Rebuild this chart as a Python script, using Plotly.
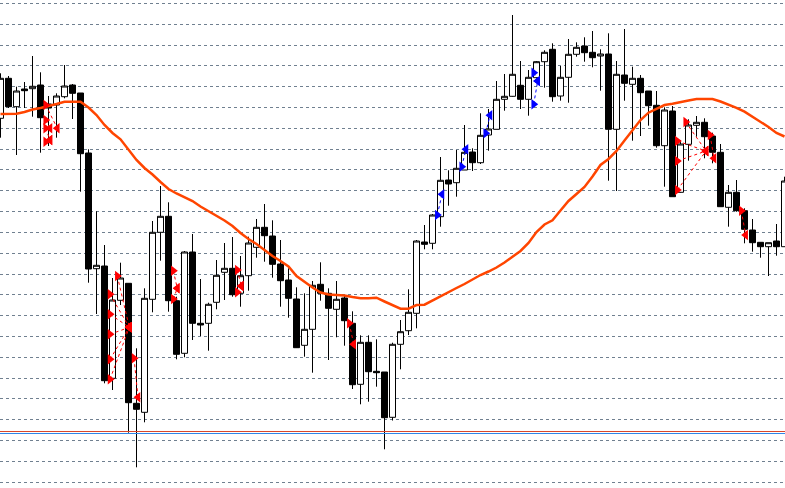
import plotly.graph_objects as go

# ---- candle data (price points) ----
bars = list(range(99))
opens = [369.7, 409.7, 381.3, 399.0, 399.3, 403.0, 384.0, 383.0, 391.3, 403.0,
         395.0, 335.0, 219.3, 222.0, 109.7, 187.7, 204.7, 84.7, 75.7, 188.7,
         255.7, 271.7, 187.3, 134.7, 236.0, 164.7, 164.7, 185.7, 215.7, 219.7,
         194.7, 212.3, 240.7, 260.7, 252.0, 224.0, 208.0, 189.0, 142.7, 158.7,
         203.7, 194.7, 178.7, 190.0, 164.7, 103.7, 145.7, 116.7, 116.0, 70.7,
         143.7, 157.3, 174.7, 246.0, 244.7, 271.3, 308.0, 305.3, 318.0, 336.0,
         325.3, 353.0, 358.7, 388.7, 391.7, 402.7, 388.7, 410.3, 426.3, 438.7,
         392.0, 410.7, 433.7, 442.0, 435.7, 432.0, 434.0, 358.7, 413.0, 403.7,
         409.7, 397.0, 382.7, 342.3, 377.0, 295.7, 343.7, 362.7, 365.7, 352.0,
         335.7, 280.7, 295.7, 277.3, 258.0, 245.7, 241.3, 247.0, 241.3]
highs = [414.7, 412.0, 401.3, 406.0, 432.0, 415.7, 392.0, 394.7, 423.0, 404.0,
         395.0, 338.7, 276.7, 243.0, 210.0, 225.3, 204.7, 139.7, 199.7, 267.0,
         302.0, 285.7, 191.3, 237.0, 254.0, 209.0, 185.3, 228.0, 245.0, 251.0,
         232.0, 251.3, 269.0, 284.0, 267.7, 248.0, 219.7, 200.7, 194.7, 207.0,
         225.7, 199.7, 207.0, 192.0, 176.7, 152.7, 152.7, 148.7, 116.0, 145.3,
         168.0, 198.7, 248.0, 263.0, 274.0, 331.0, 317.7, 338.0, 363.0, 339.7,
         374.7, 379.0, 407.0, 414.0, 473.0, 427.0, 418.0, 427.0, 437.7, 444.7,
         422.0, 449.0, 445.7, 450.7, 457.0, 438.7, 454.7, 427.0, 459.0, 421.3,
         413.0, 397.0, 397.0, 380.7, 382.0, 348.0, 368.7, 372.0, 369.7, 355.3,
         344.0, 303.0, 308.0, 279.7, 269.0, 245.7, 245.3, 264.0, 311.3]
lows = [350.3, 380.0, 333.0, 380.0, 371.3, 335.3, 342.0, 350.3, 389.7, 369.0,
        296.3, 205.3, 174.0, 104.7, 98.0, 183.0, 55.3, 20.7, 65.7, 175.7,
        227.3, 176.3, 128.7, 130.7, 148.0, 152.0, 137.3, 178.7, 188.0, 191.3,
        181.3, 197.3, 230.3, 226.3, 210.3, 181.3, 170.3, 140.0, 131.3, 115.3,
        187.3, 128.0, 150.7, 142.3, 99.0, 83.7, 86.3, 101.3, 38.7, 67.5,
        118.7, 153.0, 159.7, 238.7, 238.7, 261.3, 282.3, 291.3, 318.0, 317.0,
        324.0, 337.3, 358.7, 377.3, 391.3, 379.0, 372.3, 408.0, 400.3, 386.3,
        387.3, 385.3, 431.3, 426.3, 420.7, 397.3, 307.3, 297.0, 387.3, 347.3,
        352.0, 362.3, 340.3, 301.3, 291.3, 295.3, 327.3, 351.3, 329.7, 324.7,
        281.3, 261.3, 276.3, 244.7, 236.3, 230.3, 212.0, 232.3, 241.3]
closes = [409.7, 381.3, 397.0, 397.3, 401.7, 370.3, 380.0, 392.0, 402.0, 394.7,
          334.3, 219.0, 222.7, 107.3, 188.0, 210.0, 85.3, 78.7, 189.7, 255.7,
          271.7, 187.3, 133.7, 236.0, 164.7, 163.0, 183.7, 212.7, 219.7, 193.3,
          212.3, 245.0, 260.7, 252.3, 223.7, 207.3, 189.7, 140.3, 158.7, 202.7,
          194.7, 179.7, 188.7, 167.3, 103.3, 145.7, 116.3, 115.3, 70.3, 143.7,
          156.3, 175.7, 247.0, 243.7, 273.0, 307.7, 304.0, 319.7, 335.7, 325.3,
          352.7, 359.0, 388.7, 391.7, 413.7, 388.7, 410.7, 426.3, 435.7, 391.3,
          410.7, 433.7, 440.7, 435.3, 430.3, 434.0, 358.7, 413.7, 404.7, 409.7,
          395.3, 382.3, 342.3, 378.0, 291.3, 344.0, 363.0, 365.7, 351.3, 335.7,
          281.3, 295.7, 277.3, 258.7, 245.3, 241.3, 245.3, 241.3, 307.0]

# moving average read at each bar
ma_values = [374.0, 374.0, 374.3, 376.0, 378.5, 380.0, 381.7, 384.0, 386.2, 386.3,
             386.3, 380.5, 373.0, 363.0, 355.0, 348.7, 338.0, 328.0, 320.0, 313.5,
             306.0, 299.0, 294.5, 291.0, 287.0, 281.5, 277.0, 272.0, 267.5, 262.0,
             255.0, 249.0, 244.0, 238.0, 232.0, 227.0, 221.5, 212.0, 206.0, 200.5,
             195.5, 193.5, 193.0, 192.5, 191.0, 189.7, 189.7, 190.3, 186.5, 182.5,
             179.3, 179.3, 183.0, 183.3, 187.5, 192.0, 196.5, 200.0, 204.0, 208.5,
             213.0, 216.5, 220.5, 225.5, 231.0, 237.0, 245.0, 256.0, 263.5, 267.7,
             277.5, 287.0, 294.0, 301.0, 311.5, 323.0, 329.0, 337.0, 347.5, 358.3,
             368.0, 375.3, 379.3, 383.0, 384.2, 385.5, 387.5, 389.0, 389.0, 389.0,
             386.5, 383.7, 380.2, 376.3, 371.0, 366.5, 361.0, 355.0, 351.5]

# trade markers: open bar, open price, close bar, close price
sell_open_x = [5.65, 5.65, 5.65, 5.65, 13.69, 13.69, 13.69, 13.69, 13.69, 14.6, 16.69,
               21.6, 21.6, 29.6, 29.6, 43.6, 84.6, 84.6, 84.6, 85.65, 88.69, 92.6]
sell_open_p = [383.0, 368.0, 359.7, 346.3, 193.7, 173.7, 153.7, 128.7, 108.7, 212.0, 129.7,
               217.3, 189.0, 218.0, 195.7, 164.7, 347.0, 327.0, 298.0, 366.0, 353.0, 277.3]
sell_close_x = [7.1, 6.19, 6.19, 6.19, 16.1, 16.1, 16.1, 16.1, 16.1, 16.1, 17.19,
                22.1, 22.1, 30.1, 30.1, 44.15, 88.19, 88.19, 88.19, 88.19, 89.19, 93.15]
sell_close_p = [359.7, 359.7, 348.0, 348.0, 160.7, 160.7, 160.7, 160.7, 160.7, 160.7, 90.7,
                199.7, 199.7, 202.0, 202.0, 143.7, 337.0, 337.0, 337.0, 337.0, 329.7, 253.0]

buy_open_x = [54.6, 57.65, 60.65, 66.65, 66.65]
buy_open_p = [273.0, 321.3, 354.7, 415.3, 383.7]
buy_close_x = [55.19, 58.19, 61.19, 67.15, 67.15]
buy_close_p = [293.7, 338.7, 372.7, 407.0, 407.0]

# horizontal price lines
bid_level = 56.5
ask_level = 54.5

# grid
grid_start = 5.87
grid_step = 20.81

fig = go.Figure()

fig.add_trace(go.Candlestick(
    x=bars, open=opens, high=highs, low=lows, close=closes,
    increasing=dict(line=dict(color="black", width=1), fillcolor="white"),
    decreasing=dict(line=dict(color="black", width=1), fillcolor="black"),
    whiskerwidth=0, hoverinfo="skip", showlegend=False,
))

fig.add_trace(go.Scatter(x=bars, y=ma_values, mode="lines",
                         line=dict(color="#FF4500", width=2.5),
                         hoverinfo="skip", showlegend=False))


def add_trades(ox, op, cx, cp, color):
    lx, ly = [], []
    for a, b, c, d in zip(ox, op, cx, cp):
        lx += [a, c, None]
        ly += [b, d, None]
    fig.add_trace(go.Scatter(x=lx, y=ly, mode="lines",
                             line=dict(color=color, width=1, dash="3px,3px"),
                             hoverinfo="skip", showlegend=False))
    fig.add_trace(go.Scatter(x=ox, y=op, mode="markers",
                             marker=dict(symbol="triangle-right", size=9, color=color),
                             hoverinfo="skip", showlegend=False))
    fig.add_trace(go.Scatter(x=cx, y=cp, mode="markers",
                             marker=dict(symbol="triangle-left", size=9, color=color),
                             hoverinfo="skip", showlegend=False))


add_trades(sell_open_x, sell_open_p, sell_close_x, sell_close_p, "#FF0000")
add_trades(buy_open_x, buy_open_p, buy_close_x, buy_close_p, "#0000FF")

fig.add_hline(y=bid_level, line=dict(color="#D9472B", width=1))
fig.add_hline(y=ask_level, line=dict(color="#2F86E8", width=1))

fig.update_layout(
    width=785, height=488,
    margin=dict(l=0, r=0, t=0, b=0),
    paper_bgcolor="white", plot_bgcolor="white",
    boxgap=0.25, boxgroupgap=0,
    xaxis=dict(range=[-0.0625, 98.0625], showgrid=False, zeroline=False,
               showticklabels=False, ticks="", rangeslider=dict(visible=False),
               fixedrange=True),
    yaxis=dict(range=[0, 488], showgrid=True, gridcolor="#708090", gridwidth=1,
               griddash="3px,3px", tick0=grid_start, dtick=grid_step,
               zeroline=False, showticklabels=False, ticks="", fixedrange=True),
    hovermode=False,
)

fig.write_html("out.html", config={"displayModeBar": False},
               post_script="document.body.style.margin='0';document.body.style.overflow='hidden';")
